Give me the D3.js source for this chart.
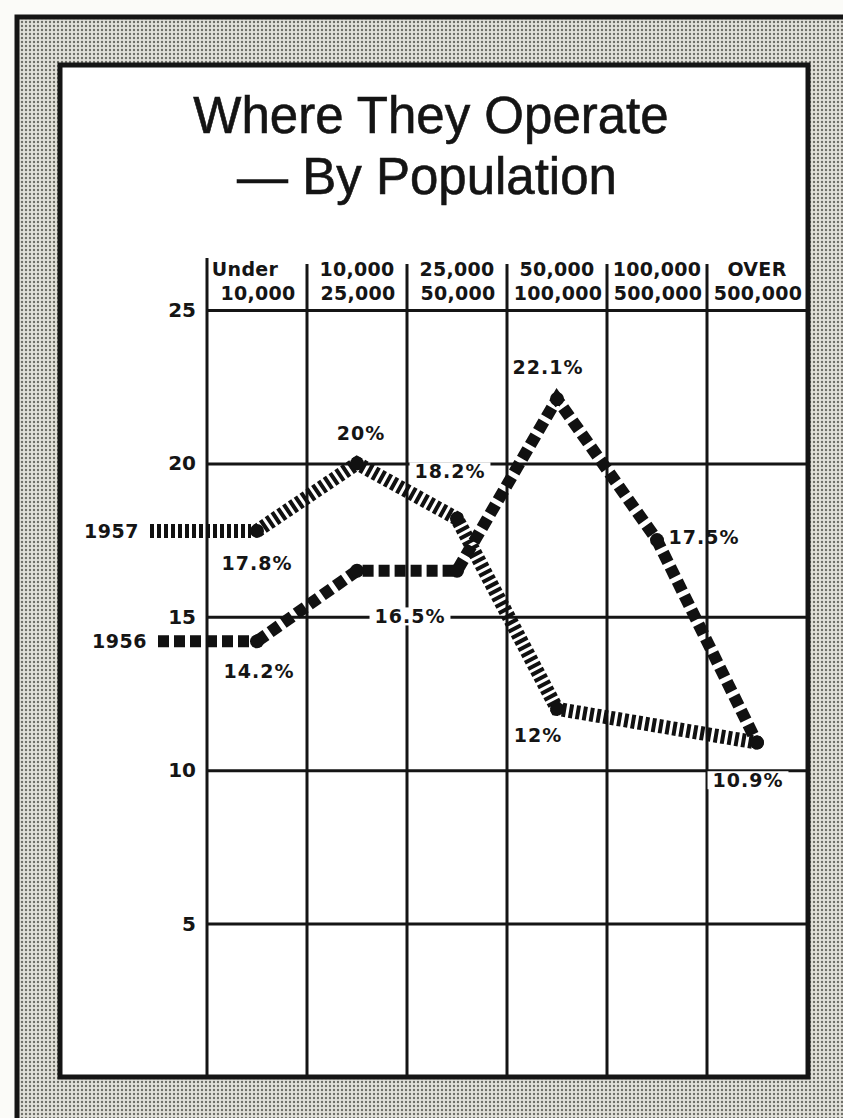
<!DOCTYPE html>
<html>
<head>
<meta charset="utf-8">
<script src="https://cdn.jsdelivr.net/npm/d3@7"></script>
<style>
  body { margin: 0; background: #fbfbf8; }
  svg { display: block; }
</style>
</head>
<body>
<svg id="chart"></svg>
<script>
// Data
const categoriesTop = ["Under", "10,000", "25,000", "50,000", "100,000", "OVER"];
const categoriesBottom = ["10,000", "25,000", "50,000", "100,000", "500,000", "500,000"];
const yTicks = [5, 10, 15, 20, 25];
const seriesNames = ["1956", "1957"];
const values1956 = [14.2, 16.5, 16.5, 22.1, 17.5, 10.9];
const values1957 = [17.8, 20, 18.2, 12, null, 10.9];
const labels1956 = ["14.2%", "16.5%", null, "22.1%", "17.5%", "10.9%"];
const labels1957 = ["17.8%", "20%", "18.2%", "12%", null, null];

// Constants
const width = 843;
const height = 1118;
const box = { left: 60, top: 65, right: 808, bottom: 1077 };
const plot = { left: 207, right: 807, top: 310, bottom: 1077 };
const labelFont = "'DejaVu Sans', sans-serif";

const svg = d3.select('#chart')
  .attr('width', width)
  .attr('height', height);

// stippled frame
const defs = svg.append('defs');
const pat = defs.append('pattern')
  .attr('id', 'stipple')
  .attr('width', 4)
  .attr('height', 4)
  .attr('patternUnits', 'userSpaceOnUse');
pat.append('rect').attr('width', 4).attr('height', 4).attr('fill', '#e2e1da');
pat.append('circle').attr('cx', 2).attr('cy', 2).attr('r', 1.2).attr('fill', '#6e6e67');

svg.append('rect')
  .attr('x', 15).attr('y', 15)
  .attr('width', width).attr('height', height)
  .attr('fill', 'url(#stipple)');
svg.append('path')
  .attr('d', `M17,${height} V17 H${width}`)
  .attr('fill', 'none')
  .attr('stroke', '#151515')
  .attr('stroke-width', 5);

svg.append('rect')
  .attr('x', box.left).attr('y', box.top)
  .attr('width', box.right - box.left)
  .attr('height', box.bottom - box.top)
  .attr('fill', '#fff')
  .attr('stroke', '#151515')
  .attr('stroke-width', 5);

// Title
const title = svg.append('text')
  .attr('text-anchor', 'middle')
  .attr('font-family', "'Liberation Sans', Arial, sans-serif")
  .attr('font-size', 51)
  .attr('fill', '#141414')
  .attr('stroke', '#141414')
  .attr('stroke-width', 0.6);
title.append('tspan').attr('x', 431).attr('y', 133).text('Where They Operate');
title.append('tspan').attr('x', 427).attr('y', 194).text('\u2014 By Population');

// Scales
const x = d3.scaleBand()
  .domain(d3.range(categoriesTop.length))
  .range([plot.left, plot.right]);
const y = d3.scaleLinear()
  .domain([0, 25])
  .range([plot.bottom, plot.top]);
const cx = i => x(i) + x.bandwidth() / 2;

// Horizontal grid + tick labels
const yAxis = svg.append('g')
  .attr('transform', `translate(${plot.left},0)`)
  .call(d3.axisLeft(y)
    .tickValues(yTicks)
    .tickSize(-(box.right - plot.left))
    .tickPadding(11)
    .tickFormat(d3.format('d')));
yAxis.select('.domain').remove();
yAxis.selectAll('.tick line')
  .attr('stroke', '#151515')
  .attr('stroke-width', 3);
yAxis.selectAll('.tick text')
  .attr('font-family', labelFont)
  .attr('font-weight', 'bold')
  .attr('font-size', 20)
  .attr('fill', '#151515');

// Vertical grid lines
svg.append('g')
  .selectAll('line')
  .data(d3.range(categoriesTop.length))
  .enter()
  .append('line')
  .attr('x1', d => x(d))
  .attr('x2', d => x(d))
  .attr('y1', d => d === 0 ? 258 : 264)
  .attr('y2', plot.bottom)
  .attr('stroke', '#151515')
  .attr('stroke-width', 3);

// Column headers
const header = svg.append('g')
  .attr('font-family', labelFont)
  .attr('font-weight', 'bold')
  .attr('font-size', 19)
  .attr('letter-spacing', 0.3)
  .attr('fill', '#151515')
  .attr('text-anchor', 'middle');
header.selectAll('.top')
  .data(categoriesTop)
  .enter()
  .append('text')
  .attr('x', (d, i) => cx(i) - (i === 0 ? 12 : 0))
  .attr('y', 276)
  .text(d => d);
header.selectAll('.bottom')
  .data(categoriesBottom)
  .enter()
  .append('text')
  .attr('x', (d, i) => cx(i) + 1)
  .attr('y', 300)
  .text(d => d);

// Series
const series = [
  { name: seriesNames[0], values: values1956, labels: labels1956,
    width: 12, dash: '11 5', leadStart: 158,
    offsets: [[2, 30], [53, 46], null, [-9, -32], [47, -3], [-9, 38]],
    bg: [false, true, false, false, false, true] },
  { name: seriesNames[1], values: values1957, labels: labels1957,
    width: 14, dash: '4 3', leadStart: 150,
    offsets: [[0, 32], [4, -30], [-7, -47], [-19, 27], null, null],
    bg: [false, false, true, false, false, false] }
];

const line = d3.line()
  .x(d => cx(d.i))
  .y(d => y(d.v));

series.forEach(s => {
  const pts = s.values.map((v, i) => ({ i, v })).filter(d => d.v !== null);

  // lead-in from legend label
  svg.append('line')
    .attr('x1', s.leadStart)
    .attr('x2', cx(pts[0].i) - 6)
    .attr('y1', y(pts[0].v))
    .attr('y2', y(pts[0].v))
    .attr('stroke', '#111')
    .attr('stroke-width', s.width)
    .attr('stroke-dasharray', s.dash);

  svg.append('path')
    .datum(pts)
    .attr('d', line)
    .attr('fill', 'none')
    .attr('stroke', '#111')
    .attr('stroke-width', s.width)
    .attr('stroke-dasharray', s.dash);

  svg.append('g')
    .selectAll('circle')
    .data(pts)
    .enter()
    .append('circle')
    .attr('cx', d => cx(d.i))
    .attr('cy', d => y(d.v))
    .attr('r', 7)
    .attr('fill', '#111');

  // series name
  svg.append('text')
    .attr('x', s.leadStart - 11)
    .attr('y', y(pts[0].v))
    .attr('dy', '0.35em')
    .attr('text-anchor', 'end')
    .attr('font-family', labelFont)
    .attr('font-weight', 'bold')
    .attr('font-size', 19)
    .attr('letter-spacing', 0.5)
    .attr('fill', '#151515')
    .text(s.name);
});

// Value labels (drawn last so backgrounds sit over the grid)
series.forEach(s => {
  s.labels.forEach((lab, i) => {
    if (!lab) return;
    const g = svg.append('g');
    const t = g.append('text')
      .attr('x', cx(i) + s.offsets[i][0])
      .attr('y', y(s.values[i]) + s.offsets[i][1])
      .attr('dy', '0.35em')
      .attr('text-anchor', 'middle')
      .attr('font-family', labelFont)
      .attr('font-weight', 'bold')
      .attr('font-size', 19)
      .attr('letter-spacing', 1)
      .attr('fill', '#151515')
      .text(lab);
    if (s.bg[i]) {
      const b = t.node().getBBox();
      g.insert('rect', 'text')
        .attr('x', b.x - 5)
        .attr('y', b.y + 2)
        .attr('width', b.width + 10)
        .attr('height', b.height - 4)
        .attr('fill', '#fff');
    }
  });
});
</script>
</body>
</html>
